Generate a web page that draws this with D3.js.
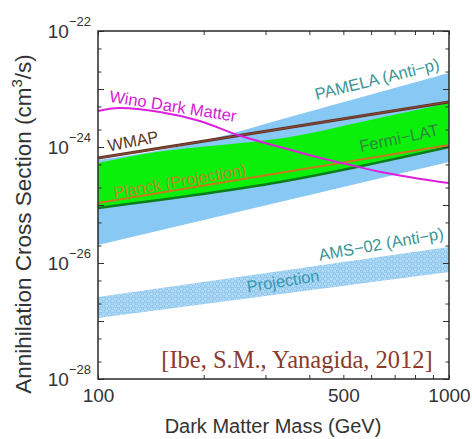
<!DOCTYPE html>
<html><head><meta charset="utf-8">
<script src="https://cdn.jsdelivr.net/npm/d3@7"></script>
<style>body{margin:0;background:#fff}svg{display:block}text{font-family:"Liberation Sans",Arial,sans-serif}</style>
</head><body><svg id="c" width="472" height="439"></svg>
<script>
// ---- data ----
const massDomain = [100, 1000];
const sigmaDomain = [1e-28, 1e-22];
const pamelaUpperMass = [100, 141, 195, 352, 1000];
const pamelaUpper = [5.97e-25, 8.2e-25, 1.22e-24, 3.29e-24, 1.89e-23];
const pamelaLowerMass = [100, 1000];
const pamelaLower = [2.05e-26, 5.5e-25];
const fermiUpperMass = [100, 147, 352, 595, 1000];
const fermiUpper = [5.3e-25, 8.2e-25, 1.49e-24, 2.92e-24, 5.74e-24];
const fermiLowerMass = [100, 330, 1000];
const fermiLower = [8.9e-26, 2.49e-25, 1.0e-24];
const wmapMass = [100, 1000];
const wmap = [6.45e-25, 6.0e-24];
const planckMass = [100, 1000];
const planck = [1.08e-25, 1.08e-24];
const winoMass = [100, 115, 150, 195, 250, 330, 430, 510, 640, 830, 1000];
const wino = [4.18e-24, 4.70e-24, 4.01e-24, 2.81e-24, 1.61e-24, 1.0e-24, 6.45e-25, 5.09e-25, 3.71e-25, 2.81e-25, 2.39e-25];
const amsMass = [100, 1000];
const amsUpper = [2.6e-27, 1.89e-26];
const amsLower = [1.13e-27, 7.0e-27];
const xTickValues = [100, 200, 300, 400, 500, 600, 700, 800, 900, 1000];
const xTickLabels = [100, 500, 1000];
const yDecades = [-22, -23, -24, -25, -26, -27, -28];
const yTickLabels = [-22, -24, -26, -28];
const yMinorFactors = [2, 5];

// ---- layout ----
const M = {left: 98, top: 31, right: 449, bottom: 379};
const svg = d3.select("#c");
const x = d3.scaleLog().domain(massDomain).range([M.left, M.right]);
const y = d3.scaleLog().domain(sigmaDomain).range([M.bottom, M.top]);

const zip = (ms, vs) => ms.map((m, i) => [m, vs[i]]);
const line = d3.line().x(d => x(d[0])).y(d => y(d[1])).curve(d3.curveCatmullRom.alpha(0.5));
function band(um, uv, lm, lv) {
  const up = line(zip(um, uv));
  const lo = line(zip(lm, lv).reverse());
  return up + lo.replace(/^M/, "L") + "Z";
}

const defs = svg.append("defs");
defs.append("clipPath").attr("id", "clip").append("rect")
  .attr("x", M.left).attr("y", M.top).attr("width", M.right - M.left).attr("height", M.bottom - M.top);
const pat = defs.append("pattern").attr("id", "hatch").attr("patternUnits", "userSpaceOnUse")
  .attr("width", 6).attr("height", 5);
pat.append("rect").attr("width", 6).attr("height", 5).attr("fill", "#b3dbf6");
pat.append("circle").attr("cx", 1.5).attr("cy", 1.25).attr("r", 1.3).attr("fill", "none").attr("stroke", "#7dbde9").attr("stroke-width", 0.9);
pat.append("circle").attr("cx", 4.5).attr("cy", 3.75).attr("r", 1.3).attr("fill", "none").attr("stroke", "#7dbde9").attr("stroke-width", 0.9);

const g = svg.append("g").attr("clip-path", "url(#clip)");
g.append("path").attr("d", band(pamelaUpperMass, pamelaUpper, pamelaLowerMass, pamelaLower)).attr("fill", "#87c8f4");
g.append("path").attr("d", band(fermiUpperMass, fermiUpper, fermiLowerMass, fermiLower)).attr("fill", "#0af00a");
g.append("path").attr("d", line(zip(fermiLowerMass, fermiLower))).attr("fill", "none").attr("stroke", "#0b7d1a").attr("stroke-width", 2.5);
g.append("path").attr("d", line(zip(planckMass, planck))).attr("fill", "none").attr("stroke", "#c8781e").attr("stroke-width", 2);
g.append("path").attr("d", line(zip(wmapMass, wmap))).attr("fill", "none").attr("stroke", "#5a2f22").attr("stroke-width", 3);
g.append("path").attr("d", line(zip(wmapMass, wmap))).attr("fill", "none").attr("stroke", "#8a4a35").attr("stroke-width", 1.2);
g.append("path").attr("d", line(zip(winoMass, wino))).attr("fill", "none").attr("stroke", "#dd1fdd").attr("stroke-width", 2);
g.append("path").attr("d", band(amsMass, amsUpper, amsMass, amsLower)).attr("fill", "url(#hatch)");

// ---- labels ----
function lab(t, cx, cy, ang, col, size, fam) {
  svg.append("text").attr("transform", `translate(${cx},${cy}) rotate(${ang})`)
    .attr("text-anchor", "middle").attr("dy", "0.35em")
    .style("font-size", size + "px").style("fill", col)
    .style("font-family", fam || null).text(t);
}
lab("PAMELA (Anti\u2212p)", 377, 79, -14, "#3a9696", 16.5);
lab("Wino Dark Matter", 173, 106, 9, "#d21ed2", 16.5);
lab("WMAP", 133, 141, -11, "#5e3526", 16.5);
lab("Planck (Projection)", 180, 181, -10, "#b9892a", 16);
lab("Fermi\u2212LAT", 399, 138, -12, "#2d8a3a", 16.5);
lab("AMS\u221202 (Anti\u2212p)", 381, 244, -10, "#3a9696", 16.5);
lab("Projection", 283, 281, -9, "#3a98b0", 16.5);
svg.append("text").attr("x", 297).attr("y", 368).attr("text-anchor", "middle")
  .style("font-family", "'Liberation Serif','DejaVu Serif',serif").style("font-size", "24.5px")
  .style("fill", "#8b3b2b").text("[Ibe, S.M., Yanagida, 2012]");

// ---- axes ----
const axCol = "#333";
function styleAxis(sel) {
  sel.select(".domain").remove();
  sel.selectAll(".tick line").attr("stroke", axCol).attr("stroke-width", 1);
  sel.selectAll("text").style("fill", axCol);
}
const yMajor = yDecades.map(e => Math.pow(10, e));
const yMinor = [];
yDecades.slice(1).forEach(e => yMinorFactors.forEach(f => yMinor.push(f * Math.pow(10, e))));

// left
const gl = svg.append("g").attr("transform", `translate(${M.left},0)`)
  .call(d3.axisLeft(y).tickValues(yMajor).tickSize(-6).tickPadding(7)
    .tickFormat(d => yTickLabels.includes(Math.round(Math.log10(d))) ? "10" : ""));
gl.selectAll(".tick text").style("font-size", "19px").each(function (d) {
  const e = Math.round(Math.log10(d));
  if (yTickLabels.includes(e)) d3.select(this).append("tspan").attr("dy", "-12").style("font-size", "13px").text("\u2212" + (-e));
});
styleAxis(gl);
svg.append("g").attr("transform", `translate(${M.left},0)`)
  .call(d3.axisLeft(y).tickValues(yMinor).tickSize(-3.5).tickFormat("")).call(styleAxis);
// right
svg.append("g").attr("transform", `translate(${M.right},0)`)
  .call(d3.axisRight(y).tickValues(yMajor).tickSize(-6).tickFormat("")).call(styleAxis);
svg.append("g").attr("transform", `translate(${M.right},0)`)
  .call(d3.axisRight(y).tickValues(yMinor).tickSize(-3.5).tickFormat("")).call(styleAxis);
// bottom
const gb = svg.append("g").attr("transform", `translate(0,${M.bottom})`)
  .call(d3.axisBottom(x).tickValues(xTickValues).tickSize(-4).tickPadding(10)
    .tickFormat(d => xTickLabels.includes(d) ? String(d) : ""));
gb.selectAll(".tick text").style("font-size", "19px");
styleAxis(gb);
// top
svg.append("g").attr("transform", `translate(0,${M.top})`)
  .call(d3.axisTop(x).tickValues(xTickValues).tickSize(-4).tickFormat("")).call(styleAxis);

svg.append("rect").attr("x", M.left).attr("y", M.top).attr("width", M.right - M.left).attr("height", M.bottom - M.top)
  .attr("fill", "none").attr("stroke", "#2a2a2a").attr("stroke-width", 1.5);

// axis titles
svg.append("text").attr("x", 273).attr("y", 433).attr("text-anchor", "middle")
  .style("font-size", "20px").style("fill", axCol).text("Dark Matter Mass (GeV)");
const yt = svg.append("text").attr("transform", "translate(31,224) rotate(-90)").attr("text-anchor", "middle")
  .style("font-size", "22.5px").style("fill", axCol);
yt.append("tspan").text("Annihilation Cross Section (cm");
yt.append("tspan").attr("dy", "-9").style("font-size", "15px").text("3");
yt.append("tspan").attr("dy", "9").text("/s)");
</script></body></html>
